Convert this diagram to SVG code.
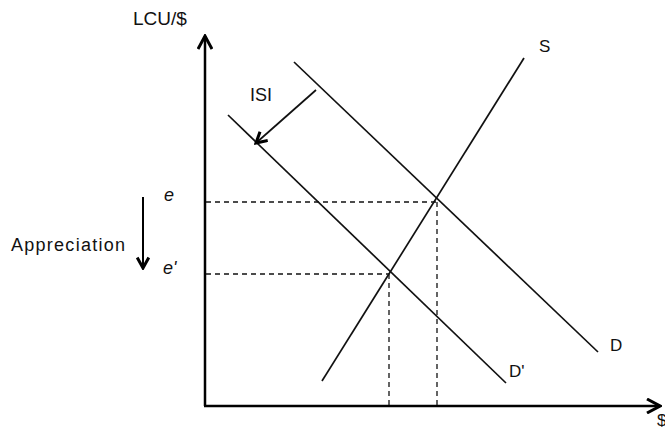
<svg xmlns="http://www.w3.org/2000/svg" width="665" height="427" viewBox="0 0 665 427">
<defs>
<marker id="ah" viewBox="0 0 12 12" refX="10" refY="6" markerWidth="14" markerHeight="14" markerUnits="userSpaceOnUse" orient="auto">
<path d="M1,1 L10,6 L1,11" fill="none" stroke="#000" stroke-width="2.6"/>
</marker>
<marker id="ahb" viewBox="0 0 16 16" refX="14" refY="8" markerWidth="16" markerHeight="16" markerUnits="userSpaceOnUse" orient="auto">
<path d="M1,1 L14,8 L1,15" fill="none" stroke="#000" stroke-width="3"/>
</marker>
</defs>
<style>
.t{font-family:"Liberation Sans",Arial,sans-serif;font-size:17px;fill:#111}
.i{font-style:italic}
.ln{stroke:#111;stroke-width:1.7;fill:none}
.ds{stroke:#111;stroke-width:1.3;stroke-dasharray:5,4;fill:none}
.ax{stroke:#000;stroke-width:2.5;fill:none}
</style>
<rect width="665" height="427" fill="#fff"/>
<g id="axes">
<line class="ax" x1="205" y1="406" x2="205" y2="36" marker-end="url(#ahb)"/>
<line class="ax" x1="204" y1="406" x2="660" y2="406" marker-end="url(#ahb)"/>
<text class="t" x="133" y="25" style="font-size:19px">LCU/$</text>
<text class="t" x="657" y="426">$</text>
</g>
<g id="connectors">
<line class="ds" x1="206" y1="202" x2="437" y2="202"/>
<line class="ds" x1="437" y1="202" x2="437" y2="405"/>
<line class="ds" x1="206" y1="274" x2="389" y2="274"/>
<line class="ds" x1="389" y1="274" x2="389" y2="405"/>
</g>
<g id="S">
<line class="ln" x1="322" y1="381" x2="524" y2="58"/>
<text class="t" x="539" y="52">S</text>
</g>
<g id="D">
<line class="ln" x1="294" y1="62" x2="598" y2="352"/>
<text class="t" x="610" y="351">D</text>
</g>
<g id="Dprime">
<line class="ln" x1="228" y1="115" x2="506" y2="383"/>
<text class="t" x="509" y="377">D'</text>
</g>
<g id="ISI">
<line class="ln" x1="316" y1="90" x2="256" y2="143" stroke-width="2.4" marker-end="url(#ah)"/>
<text class="t" x="250" y="101" style="font-size:18px">ISI</text>
</g>
<g id="labels">
<text class="t i" x="164" y="201" style="font-size:18px">e</text>
<text class="t i" x="163" y="274" style="font-size:18px">e'</text>
<text class="t" x="11" y="251" style="font-size:18px" textLength="114" lengthAdjust="spacing">Appreciation</text>
<line x1="143" y1="197" x2="143" y2="268" stroke="#000" stroke-width="2" marker-end="url(#ah)"/>
</g>
</svg>
